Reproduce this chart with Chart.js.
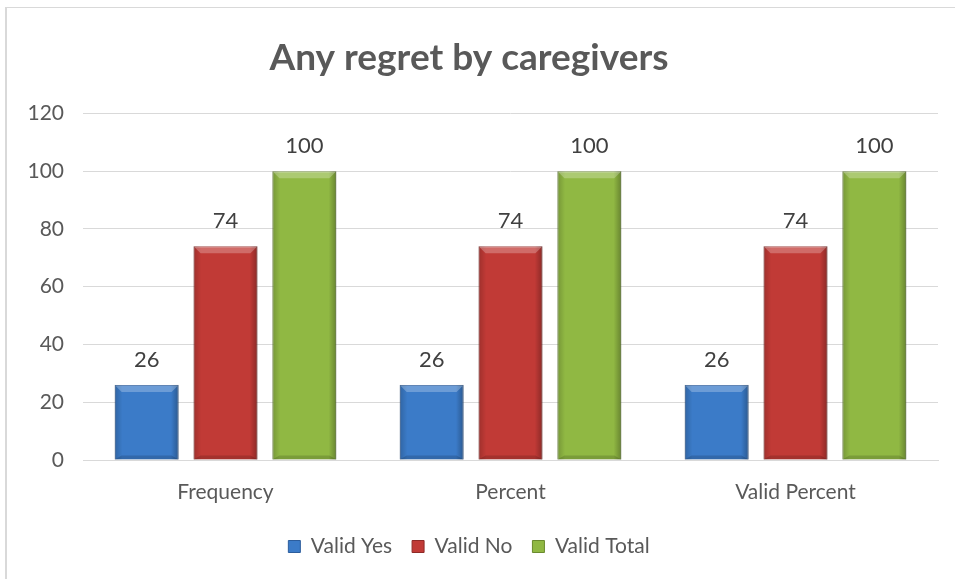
<!DOCTYPE html>
<html>
<head>
<meta charset="utf-8">
<script src="https://cdn.jsdelivr.net/npm/chart.js@4"></script>
<style>
  html, body { margin: 0; padding: 0; background: #fff; overflow: hidden; }
  #wrap { position: relative; width: 955px; height: 579px; }
  #frame {
    position: absolute; left: 5px; top: 7px; width: 1000px; height: 1000px;
    border-left: 2px solid #d9d9d9; border-top: 1px solid #d9d9d9;
  }
  canvas { position: absolute; left: 0; top: 0; }
</style>
</head>
<body>
<div id="wrap">
  <div id="frame"></div>
  <canvas id="chart" width="955" height="579"></canvas>
</div>
<script>
// ---- Data ----
const categories = ['Frequency', 'Percent', 'Valid Percent'];
const validYes   = [26, 26, 26];
const validNo    = [74, 74, 74];
const validTotal = [100, 100, 100];
const yTicks     = [0, 20, 40, 60, 80, 100, 120];

const FONT = "'Lato', 'Open Sans', sans-serif";

// ---- Bevel overlay on bars (Excel-ish look) ----
const bevelPlugin = {
  id: 'bevel',
  afterDatasetsDraw: function (chart) {
    const ctx = chart.ctx;
    chart.data.datasets.forEach(function (ds, i) {
      const meta = chart.getDatasetMeta(i);
      meta.data.forEach(function (bar) {
        const p = bar.getProps(['x', 'y', 'base', 'width'], true);
        const l = p.x - p.width / 2, r = p.x + p.width / 2;
        const t = p.y, b = p.base;
        const bev = 7;
        ctx.save();
        // side shading
        const g = ctx.createLinearGradient(l, 0, r, 0);
        g.addColorStop(0, 'rgba(0,0,0,0.18)');
        g.addColorStop(0.12, 'rgba(0,0,0,0)');
        g.addColorStop(0.88, 'rgba(0,0,0,0)');
        g.addColorStop(1, 'rgba(0,0,0,0.28)');
        ctx.fillStyle = g;
        ctx.fillRect(l, t, r - l, b - t);
        // top bevel highlight
        ctx.beginPath();
        ctx.moveTo(l, t); ctx.lineTo(r, t); ctx.lineTo(r - bev, t + bev); ctx.lineTo(l + bev, t + bev);
        ctx.closePath();
        ctx.fillStyle = 'rgba(255,255,255,0.25)';
        ctx.fill();
        // bottom bevel shade
        ctx.beginPath();
        ctx.moveTo(l, b); ctx.lineTo(r, b); ctx.lineTo(r - bev, b - 4); ctx.lineTo(l + bev, b - 4);
        ctx.closePath();
        ctx.fillStyle = 'rgba(0,0,0,0.15)';
        ctx.fill();
        ctx.restore();
      });
    });
  }
};

// ---- Value labels above bars ----
const valueLabels = {
  id: 'valueLabels',
  afterDatasetsDraw: function (chart) {
    const ctx = chart.ctx;
    ctx.save();
    ctx.font = '22px ' + FONT;
    ctx.fillStyle = '#404040';
    ctx.textAlign = 'center';
    ctx.textBaseline = 'middle';
    chart.data.datasets.forEach(function (ds, i) {
      chart.getDatasetMeta(i).data.forEach(function (bar, j) {
        ctx.fillText(String(ds.data[j]), bar.x, bar.y - 25);
      });
    });
    ctx.restore();
  }
};

new Chart(document.getElementById('chart'), {
  type: 'bar',
  data: {
    labels: categories,
    datasets: [
      { label: 'Valid Yes',   data: validYes,   backgroundColor: '#3b7bc8', borderColor: '#2c5d9c', borderWidth: 1 },
      { label: 'Valid No',    data: validNo,    backgroundColor: '#c13a36', borderColor: '#8e2a27', borderWidth: 1 },
      { label: 'Valid Total', data: validTotal, backgroundColor: '#90b843', borderColor: '#6a8a2e', borderWidth: 1 }
    ]
  },
  options: {
    responsive: false,
    animation: false,
    devicePixelRatio: 1,
    datasets: { bar: { categoryPercentage: 0.83, barPercentage: 0.81 } },
    layout: { padding: { left: 0, right: 17, top: 0, bottom: 12 } },
    plugins: {
      title: {
        display: true,
        text: 'Any regret by caregivers',
        color: '#595959',
        font: { family: FONT, size: 37, weight: 'bold' },
        padding: { top: 36, bottom: 33 }
      },
      legend: {
        position: 'bottom',
        labels: {
          color: '#595959',
          font: { family: FONT, size: 21 },
          boxWidth: 12, boxHeight: 12,
          padding: 20
        }
      },
      tooltip: { enabled: false }
    },
    scales: {
      x: {
        grid: { display: false, drawTicks: false },
        border: { color: '#d9d9d9', width: 1 },
        ticks: { color: '#595959', font: { family: FONT, size: 21 }, padding: 20 },
        afterFit: function (s) { s.height = 56; }
      },
      y: {
        min: 0, max: 120,
        afterBuildTicks: function (s) { s.ticks = yTicks.map(function (v) { return { value: v }; }); },
        grid: { color: '#d9d9d9', drawTicks: false },
        border: { display: false },
        ticks: { color: '#595959', font: { family: FONT, size: 21 }, padding: 19 },
        afterFit: function (s) { s.width = 83; }
      }
    }
  },
  plugins: [bevelPlugin, valueLabels]
});
</script>
</body>
</html>
